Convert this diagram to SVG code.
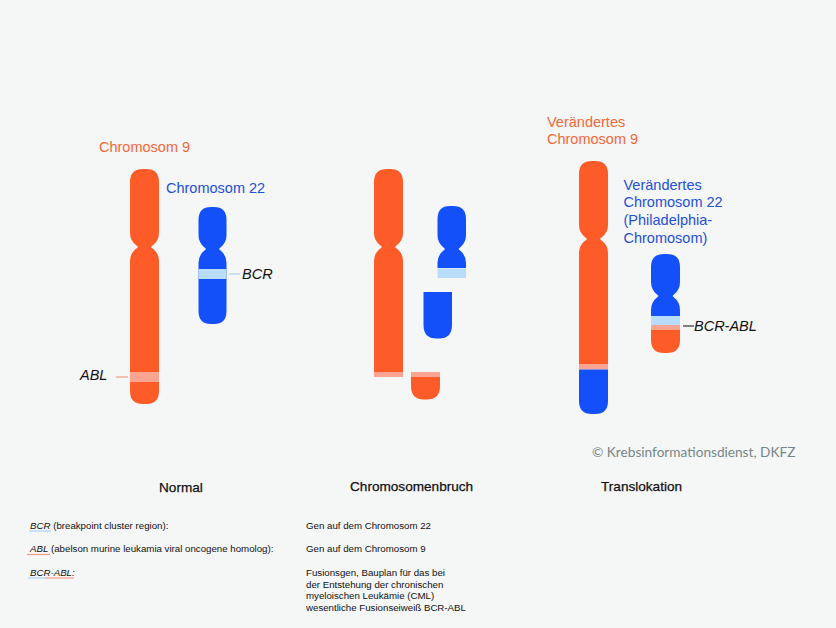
<svg xmlns="http://www.w3.org/2000/svg" width="836" height="628" viewBox="0 0 836 628">
<style>
text{font-family:"Liberation Sans",Arial,sans-serif;fill:#111}
.o{fill:#fd5c28}.b{fill:#1450fa}.po{fill:#fba491}.lb{fill:#b9dcf8}
.to{font-size:14.500px;fill:#f4683a}.tb{font-size:14.500px;fill:#2450d8}
.g{font-size:14.500px;font-style:italic}
.h{font-size:13.600px;stroke:#111;stroke-width:.25px}
.s{font-size:9.700px}.i{font-style:italic}
.lblue{stroke:#a9d3f3;stroke-width:1.2;fill:none}.lred{stroke:#f39a85;stroke-width:1.2;fill:none}
</style>
<rect width="836" height="628" fill="#f5f6f6"/>
<g id="normal-chromosom-9">
<path class="o" d="M130 182Q130 169 143 169H146Q159 169 159 182V233Q159 241 152 246L151 247L152 248Q159 253 159 261V391Q159 404 146 404H143Q130 404 130 391V261Q130 253 137 248L138 247L137 246Q130 241 130 233Z"/>
<rect class="po" x="130" y="372" width="29" height="10"/>
<text class="to" x="99" y="152">Chromosom 9</text>
</g>
<g id="normal-chromosom-22">
<path class="b" d="M198.500 220Q198.500 207 211 207H214Q226.500 207 226.500 220V235Q226.500 243 220 248L219 249L220 250Q226.500 255 226.500 263V311Q226.500 324 214 324H211Q198.500 324 198.500 311V263Q198.500 255 205 250L206 249L205 248Q198.500 243 198.500 235Z"/>
<rect class="lb" x="198.500" y="269" width="28" height="10"/>
<text class="tb" x="166" y="193">Chromosom 22</text>
</g>
<g id="label-abl"><text class="g" x="80" y="380">ABL</text></g>
<g id="label-bcr"><text class="g" x="242" y="279">BCR</text></g>
<g id="break-chromosom-9">
<path class="o" d="M374 182Q374 169 387 169H390Q403 169 403 182V233Q403 241 396 246L395 247L396 248Q403 253 403 261V372H374V261Q374 253 381 248L382 247L381 246Q374 241 374 233Z"/>
<rect class="po" x="374" y="372" width="29" height="5"/>
</g>
<g id="break-fragment-9">
<path class="o" d="M411 377H440V386Q440 399.500 427 399.500H424Q411 399.500 411 386Z"/>
<rect class="po" x="411" y="372" width="29" height="5"/>
</g>
<g id="break-chromosom-22">
<path class="b" d="M437.500 219Q437.500 206 450 206H453Q466 206 466 219V235Q466 243 459.500 248L458.500 249L459.500 250Q466 255 466 263V268H437.500V263Q437.500 255 444 250L445 249L444 248Q437.500 243 437.500 235Z"/>
<rect class="lb" x="437.500" y="268.500" width="28.500" height="9.500"/>
</g>
<g id="break-fragment-22">
<path class="b" d="M423.500 292H452V325Q452 338.500 439 338.500H436.500Q423.500 338.500 423.500 325Z"/>
</g>
<g id="trans-chromosom-9">
<path class="o" d="M579 174Q579 161 592 161H595Q608 161 608 174V225Q608 233 601 238L600 239L601 240Q608 245 608 253V364H579V253Q579 245 586 240L587 239L586 238Q579 233 579 225Z"/>
<rect class="po" x="579" y="364" width="29" height="5.500"/>
<path class="b" d="M579 369.500H608V401Q608 414 595 414H592Q579 414 579 401Z"/>
<text class="to"><tspan x="547" y="127">Verändertes</tspan><tspan x="547" y="144">Chromosom 9</tspan></text>
</g>
<g id="trans-chromosom-22">
<path class="b" d="M651 267Q651 254 664 254H667Q680 254 680 267V282Q680 290 673.500 295L672.500 296L673.500 297Q680 302 680 310V316H651V310Q651 302 657.500 297L658.500 296L657.500 295Q651 290 651 282Z"/>
<rect class="lb" x="651" y="316" width="29" height="9"/>
<rect class="po" x="651" y="325" width="29" height="5"/>
<path class="o" d="M651 330H680V340Q680 353 667 353H664Q651 353 651 340Z"/>
<text class="tb"><tspan x="623.500" y="190">Verändertes</tspan><tspan x="623.500" y="207">Chromosom 22</tspan><tspan x="623.500" y="225">(Philadelphia-</tspan><tspan x="623.500" y="243">Chromosom)</tspan></text>
</g>
<g id="label-bcr-abl"><text class="g" x="694" y="331">BCR-ABL</text></g>
<g id="connectors" fill="none">
<path class="lred" d="M116 377H128"/>
<path class="lblue" d="M229 274H240"/>
<path d="M683 326H694" stroke="#333" stroke-width="1.200"/>
<path class="lblue" d="M29 531H51"/>
<path class="lred" d="M27 554.500H50"/>
<path class="lblue" d="M28 578H45"/>
<path class="lred" d="M45 578H74"/>
</g>
<text x="592" y="457" style="font-family:Lato,sans-serif;font-size:13.650px;fill:#75868a">© Krebsinformationsdienst, DKFZ</text>
<text class="h" x="159" y="492">Normal</text>
<text class="h" x="350" y="491">Chromosomenbruch</text>
<text class="h" x="601" y="491">Translokation</text>
<text class="s" x="30" y="529"><tspan class="i">BCR</tspan> (breakpoint cluster region):</text>
<text class="s" x="30" y="552"><tspan class="i">ABL</tspan> (abelson murine leukamia viral oncogene homolog):</text>
<text class="s i" x="30" y="576">BCR-ABL:</text>
<text class="s" x="306" y="529">Gen auf dem Chromosom 22</text>
<text class="s" x="306" y="552">Gen auf dem Chromosom 9</text>
<text class="s"><tspan x="306" y="576">Fusionsgen, Bauplan für das bei</tspan><tspan x="306" y="588">der Entstehung der chronischen</tspan><tspan x="306" y="599">myeloischen Leukämie (CML)</tspan><tspan x="306" y="611">wesentliche Fusionseiweiß BCR-ABL</tspan></text>
</svg>
